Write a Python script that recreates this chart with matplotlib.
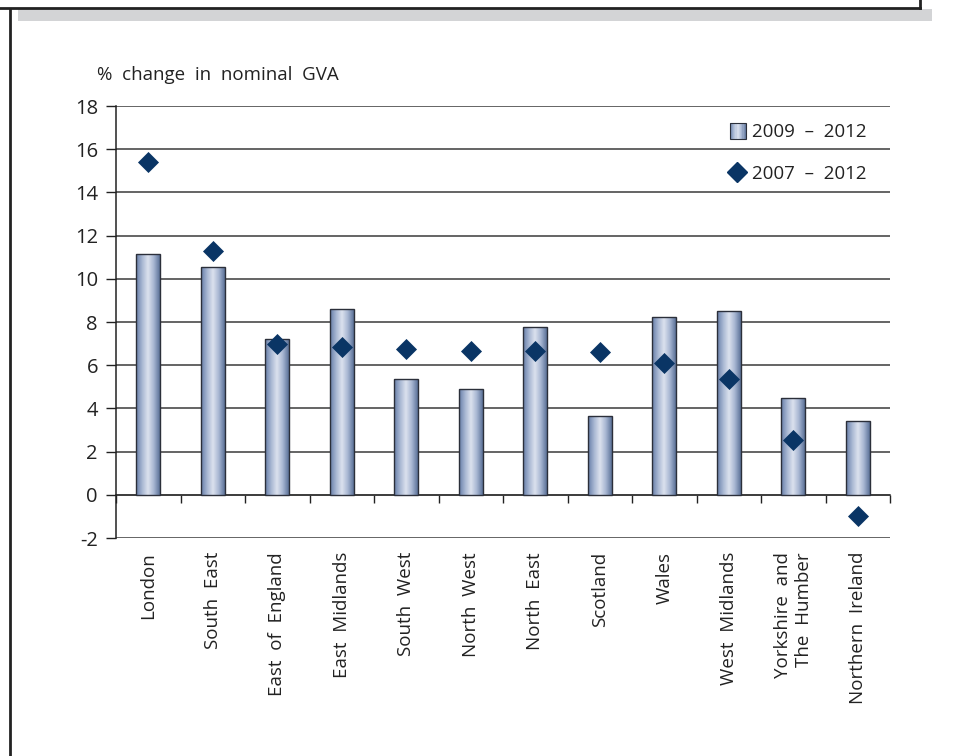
import numpy as np
import matplotlib
matplotlib.use("Agg")
import matplotlib.pyplot as plt
from matplotlib.patches import Rectangle
from matplotlib.lines import Line2D
from matplotlib.legend_handler import HandlerBase
from matplotlib.colors import LinearSegmentedColormap

plt.rcParams['font.family'] = ['Open Sans', 'DejaVu Sans']
plt.rcParams['axes.unicode_minus'] = False

regions = ["London", "South East", "East of England", "East Midlands", "South West",
           "North West", "North East", "Scotland", "Wales", "West Midlands",
           "Yorkshire and\nThe Humber", "Northern Ireland"]
change_2009_2012 = [11.15, 10.55, 7.2, 8.6, 5.35, 4.9, 7.75, 3.65, 8.22, 8.53, 4.5, 3.42]
change_2007_2012 = [15.4, 11.3, 6.97, 6.83, 6.74, 6.65, 6.65, 6.59, 6.12, 5.34, 2.56, -1.0]
series_labels = ["2009 \u2013 2012", "2007 \u2013 2012"]
y_label = "% change in nominal GVA"


def wide(s):
    return s.replace(" ", "  ")


FS = 13.5
W, H = 954, 756
fig = plt.figure(figsize=(W / 100, H / 100), dpi=100)
fig.patch.set_facecolor("white")

# Frame decorations (page box)
fig.add_artist(Rectangle((18 / W, 1 - 21 / H), (932 - 18) / W, 12 / H,
                         transform=fig.transFigure, facecolor="#d3d4d6",
                         edgecolor="none", zorder=0))
fig.add_artist(Line2D([0, 920 / W], [1 - 8 / H, 1 - 8 / H], transform=fig.transFigure,
                      color="#222222", lw=2))
fig.add_artist(Line2D([920 / W, 920 / W], [1 - 8 / H, 1.0], transform=fig.transFigure,
                      color="#222222", lw=2))
fig.add_artist(Line2D([10 / W, 10 / W], [0, 1 - 10 / H], transform=fig.transFigure,
                      color="#222222", lw=2))

ax = fig.add_axes([116 / W, 1 - 538 / H, (890 - 116) / W, (538 - 106) / H])
ax.set_facecolor("none")

ymin, ymax = -2, 18
x = np.arange(len(regions))

cmap = LinearSegmentedColormap.from_list(
    "cyl", ["#677ea8", "#a7b6d2", "#dce2ee", "#a7b6d2", "#5c7299"])
grad = np.linspace(0, 1, 64).reshape(1, -1)

bars = ax.bar(x, change_2009_2012, width=0.37, facecolor="none",
              edgecolor="#2b2f3a", linewidth=1.0, zorder=3)
for b in bars:
    x0, y0 = b.get_x(), b.get_y()
    w, h = b.get_width(), b.get_height()
    im = ax.imshow(grad, cmap=cmap, aspect="auto",
                   extent=[x0, x0 + w, y0, y0 + h], zorder=2.5,
                   interpolation="bilinear")
    im.set_clip_path(b)
ax.set_xlim(-0.5, len(regions) - 0.5)
ax.set_ylim(ymin, ymax)

ax.scatter(x, change_2007_2012, marker="D", s=115, color="#0a3565",
           zorder=4, linewidths=0)

# grid
ax.set_yticks(np.arange(ymin, ymax + 1, 2))
ax.yaxis.grid(True, color="#3a3a3a", linewidth=1.1)
ax.set_axisbelow(True)
for s in ["top", "right", "bottom"]:
    ax.spines[s].set_visible(False)
ax.spines["left"].set_color("#222222")
ax.spines["left"].set_linewidth(1.1)
ax.tick_params(axis="y", length=7, width=1.0, color="#222222",
               labelsize=14.5, pad=6, labelcolor="#222222")

ax.set_xticks(x)
ax.set_xticklabels([wide(r) for r in regions], rotation=90, fontsize=FS, va="top",
                   ha="center", multialignment="right", linespacing=1.2,
                   color="#222222")
ax.tick_params(axis="x", length=0, pad=10)

# zero axis with ticks between categories
frac0 = (0 - ymin) / (ymax - ymin)
sec = ax.secondary_xaxis(frac0)
sec.set_xticks(np.arange(-0.5, len(regions) - 0.4, 1.0))
sec.set_xticklabels([])
sec.tick_params(axis="x", direction="out", length=6, width=1.0, color="#222222")
sec.spines["bottom"].set_color("#222222")
sec.spines["bottom"].set_linewidth(1.1)

ax.text(-19 / 774, 1 + 31 / 432, wide(y_label), fontsize=FS, ha="left",
        va="center", transform=ax.transAxes, color="#222222")


class GradHandler(HandlerBase):
    def create_artists(self, legend, orig_handle, xdescent, ydescent,
                       width, height, fontsize, trans):
        side = height * 1.25
        x0 = xdescent + width - side
        y0 = -ydescent + (height - side) / 2
        arts = []
        n = 14
        for i in range(n):
            c = cmap((i + 0.5) / n)
            arts.append(Rectangle((x0 + side * i / n, y0), side / n, side,
                                  facecolor=c, edgecolor="none", transform=trans))
        arts.append(Rectangle((x0, y0), side, side, facecolor="none",
                              edgecolor="#2b2f3a", lw=0.8, transform=trans))
        return arts


bar_handle = Rectangle((0, 0), 1, 1)
dia_handle = Line2D([], [], marker="D", color="#0a3565", markersize=10.5,
                    linestyle="none")
leg = ax.legend([bar_handle, dia_handle], [wide(s) for s in series_labels],
                handler_map={Rectangle: GradHandler()},
                loc="upper right", bbox_to_anchor=(0.986, 0.99), frameon=False,
                fontsize=FS, handlelength=1.0, handletextpad=0.3,
                labelspacing=1.25, borderaxespad=0.3)
for t in leg.get_texts():
    t.set_color("#222222")
leg.set_zorder(6)

fig.savefig("out.png", dpi=100, facecolor="white")
